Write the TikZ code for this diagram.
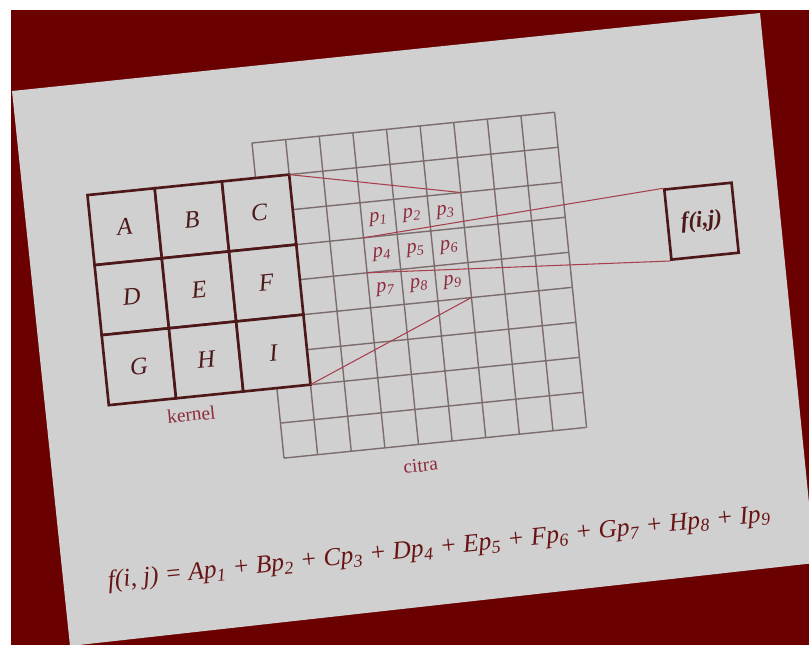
\documentclass[tikz,border=0pt]{standalone}
\usepackage{fontspec}
\setmainfont{Liberation Serif}
\usepackage{tikz}
\usetikzlibrary{calc}
\definecolor{backred}{HTML}{6B0000}
\definecolor{paper}{HTML}{D0D0D0}
\definecolor{ink}{HTML}{4E1818}
\definecolor{gridink}{HTML}{7C6C6C}
\definecolor{linkred}{HTML}{A8404C}
\definecolor{pinkink}{HTML}{8E2B3C}

\begin{document}
\begin{tikzpicture}[
  x=0.02cm, y=-0.02cm,
  kcell/.style={rectangle, draw=ink, line width=1.5pt, fill=paper, minimum width=1.352cm, minimum height=1.408cm, inner sep=0pt, outer sep=0pt, font=\fontsize{14}{16}\selectfont\itshape, text=ink, transform shape},
  pcell/.style={inner sep=0pt, font=\fontsize{11.5}{12}\selectfont\itshape, text=pinkink, transform shape},
  outbox/.style={rectangle, draw=ink, line width=1.5pt, minimum width=1.352cm, minimum height=1.408cm, inner sep=0pt, font=\fontsize{13}{15}\selectfont\bfseries\itshape, text=ink, transform shape},
  caption/.style={inner sep=1pt, font=\fontsize{11}{13}\selectfont, text=pinkink, transform shape},
  eqn/.style={inner sep=0pt, font=\fontsize{14.5}{17}\selectfont\itshape, text=ink!85!red, transform shape},
  gridline/.style={gridink, line width=0.8pt},
  link/.style={linkred, line width=0.6pt}
]

  % The photo frame first: white margin, dark red backdrop and the tilted sheet.
  \useasboundingbox (0,0) rectangle (809,645);
  \clip (0,0) rectangle (809,645);
  \fill[white] (0,0) rectangle (809,645);
  \fill[backred] (11,10) rectangle (809,645);
  \fill[paper] (12,91) -- (760,13) -- (815,563) -- (70,646) -- cycle;

  % Everything on the sheet sits in a tilted frame, one unit per pixel of the image grid.
  \begin{scope}[shift={(252,143)}, rotate=5.8, x=0.676cm, y=-0.704cm]

    % The image (citra) grid, 9 by 9 pixels
    \foreach \k in {0,...,9} {
      \draw[gridline] (\k,0) -- (\k,9);
      \draw[gridline] (0,\k) -- (9,\k);
    }

    % The 3 by 3 kernel, drawn over the left part of the grid
    \foreach \lab/\cx/\cy in {A/-4/2, B/-2/2, C/0/2, D/-4/4, E/-2/4, F/0/4, G/-4/6, H/-2/6, I/0/6}
      \node[kcell] (\lab) at (\cx,\cy) {\lab};

    % Pixels under the kernel
    \foreach \n/\cx/\cy in {1/3.5/2.5, 2/4.5/2.5, 3/5.5/2.5, 4/3.5/3.5, 5/4.5/3.5, 6/5.5/3.5, 7/3.5/4.5, 8/4.5/4.5, 9/5.5/4.5}
      \node[pcell] (p\n) at (\cx,\cy) {p\textsubscript{\n}};

    \coordinate (pTR) at (6,2);
    \coordinate (pBR) at (6,5);
    \coordinate (pW3) at (3,3);
    \coordinate (pW4) at (3,4);

    % Output pixel
    \node[outbox] (fij) at (13,3.5) {f(i,j)};

    \node[caption] (kcap) at (-2.6,7.5) {kernel};
    \node[caption] (ccap) at (4,9.6) {citra};

    \node[eqn] (eq) at (4.3,12.0) {f(i, j) = Ap\textsubscript{1} + Bp\textsubscript{2} + Cp\textsubscript{3} + Dp\textsubscript{4} + Ep\textsubscript{5} + Fp\textsubscript{6} + Gp\textsubscript{7} + Hp\textsubscript{8} + Ip\textsubscript{9}};

    % Projection lines from kernel to pixels and from pixels to the output
    \draw[link] (C.north east) -- (pTR);
    \draw[link] (I.south east) -- (pBR);
    \draw[link] (pW3) -- (fij.north west);
    \draw[link] (pW4) -- (fij.south west);

  \end{scope}

\end{tikzpicture}
\end{document}
